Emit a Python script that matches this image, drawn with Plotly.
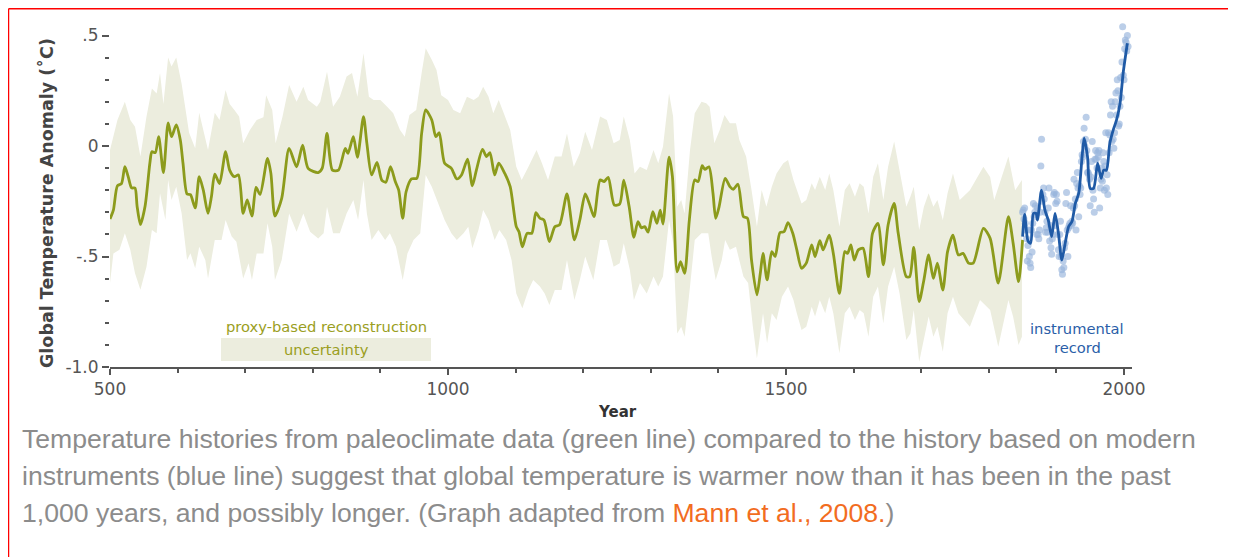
import plotly.graph_objects as go

# ---------------- data ----------------
recon_years = [500,505,511,517,522,527,532,537,540,545,552,559,562,567,572,579,586,591,598,604,608,614,619,626,632,638,645,650,655,662,671,677,684,690,697,703,710,716,722,733,738,744,754,765,776,785,793,808,814,821,829,838,848,852,860,866,875,880,887,895,902,908,915,922,927,933,938,946,954,961,967,976,982,987,995,1005,1013,1020,1029,1036,1042,1051,1057,1062,1069,1075,1084,1092,1101,1105,1110,1117,1124,1130,1136,1142,1150,1158,1165,1176,1187,1195,1203,1209,1216,1225,1231,1237,1246,1254,1260,1268,1275,1281,1286,1291,1296,1303,1309,1314,1318,1327,1332,1339,1344,1350,1357,1365,1370,1376,1380,1386,1392,1396,1401,1410,1417,1422,1429,1437,1443,1449,1457,1462,1466,1472,1479,1484,1491,1497,1503,1510,1516,1523,1530,1538,1543,1550,1555,1564,1570,1579,1587,1591,1596,1601,1607,1614,1622,1628,1636,1644,1651,1660,1666,1678,1683,1689,1697,1704,1711,1718,1724,1732,1739,1747,1755,1762,1770,1777,1792,1802,1814,1829,1836,1844,1850]
recon_vals = [-0.33,-0.29,-0.18,-0.17,-0.094,-0.14,-0.19,-0.19,-0.27,-0.355,-0.27,-0.077,-0.026,-0.03,0.042,-0.12,0.105,0.042,0.095,0.027,-0.078,-0.217,-0.22,-0.28,-0.139,-0.2,-0.305,-0.23,-0.127,-0.17,-0.026,-0.109,-0.139,-0.131,-0.305,-0.244,-0.317,-0.187,-0.219,-0.056,-0.124,-0.317,-0.237,-0.011,-0.094,0.004,-0.101,-0.12,-0.1,0.057,-0.109,-0.109,-0.011,-0.033,0.042,-0.051,0.133,0.012,-0.131,-0.074,-0.154,-0.164,-0.094,-0.161,-0.199,-0.327,-0.207,-0.149,-0.146,0.057,0.163,0.118,0.042,0.06,-0.078,-0.101,-0.149,-0.131,-0.06,-0.18,-0.109,-0.015,-0.048,-0.03,-0.131,-0.078,-0.124,-0.184,-0.365,-0.388,-0.456,-0.395,-0.395,-0.302,-0.327,-0.335,-0.433,-0.365,-0.357,-0.217,-0.425,-0.335,-0.217,-0.26,-0.32,-0.154,-0.161,-0.142,-0.267,-0.262,-0.154,-0.275,-0.413,-0.342,-0.37,-0.365,-0.39,-0.297,-0.35,-0.29,-0.353,-0.051,-0.139,-0.569,-0.523,-0.576,-0.335,-0.154,-0.161,-0.089,-0.106,-0.094,-0.214,-0.327,-0.275,-0.146,-0.184,-0.196,-0.173,-0.32,-0.327,-0.516,-0.674,-0.576,-0.486,-0.606,-0.478,-0.5,-0.392,-0.388,-0.347,-0.395,-0.47,-0.553,-0.53,-0.448,-0.5,-0.428,-0.47,-0.403,-0.486,-0.667,-0.478,-0.486,-0.448,-0.516,-0.47,-0.463,-0.591,-0.395,-0.35,-0.538,-0.357,-0.26,-0.395,-0.591,-0.591,-0.459,-0.704,-0.606,-0.493,-0.599,-0.53,-0.652,-0.478,-0.403,-0.493,-0.486,-0.53,-0.53,-0.373,-0.418,-0.62,-0.32,-0.44,-0.614,-0.425]

upper_years = [500,511,522,530,537,545,554,562,569,574,579,586,591,598,606,612,617,626,632,638,645,655,662,671,677,684,691,697,707,717,727,731,740,745,755,765,776,786,793,806,811,821,830,840,850,858,866,875,883,890,900,910,919,929,936,943,953,961,967,976,983,990,1000,1008,1018,1028,1038,1045,1052,1060,1067,1075,1084,1092,1101,1109,1119,1131,1139,1148,1158,1168,1176,1186,1195,1203,1213,1225,1235,1245,1254,1260,1269,1276,1284,1294,1304,1311,1318,1327,1333,1339,1345,1350,1358,1365,1375,1382,1387,1394,1402,1409,1417,1426,1431,1441,1449,1457,1464,1471,1479,1486,1496,1503,1511,1516,1523,1530,1538,1543,1550,1558,1564,1570,1579,1587,1594,1602,1609,1615,1622,1629,1636,1644,1651,1660,1668,1678,1684,1689,1697,1704,1711,1718,1724,1732,1739,1747,1757,1772,1792,1802,1808,1829,1839,1849]
upper_vals = [-0.018,0.118,0.2,0.118,0.087,-0.048,0.133,0.26,0.238,0.33,0.19,0.40,0.36,0.40,0.28,0.148,0.06,-0.01,0.15,0.072,-0.018,0.15,0.118,0.253,0.19,0.163,0.133,0.013,0.072,0.118,0.13,0.23,0.163,0.013,0.13,0.276,0.2,0.268,0.208,0.178,0.2,0.336,0.178,0.223,0.314,0.33,0.223,0.42,0.223,0.208,0.208,0.178,0.148,0.072,0.042,0.14,0.163,0.33,0.442,0.39,0.344,0.23,0.208,0.163,0.148,0.223,0.208,0.223,0.268,0.223,0.148,0.208,0.133,0.072,-0.094,-0.154,-0.094,-0.018,-0.078,-0.154,-0.048,-0.048,0.057,-0.094,-0.033,0.065,-0.018,0.133,0.118,0.012,0.027,0.133,0.027,-0.124,-0.094,-0.109,-0.018,-0.078,-0.003,0.238,0.133,-0.275,-0.244,-0.305,-0.018,0.148,0.2,0.193,0.178,0.012,0.072,0.14,0.103,0.103,0.027,-0.048,-0.199,-0.365,-0.199,-0.275,-0.184,-0.124,-0.078,-0.063,-0.154,-0.199,-0.26,-0.244,-0.169,-0.199,-0.139,-0.199,-0.124,-0.199,-0.365,-0.199,-0.169,-0.23,-0.169,-0.184,-0.305,-0.139,-0.078,-0.244,-0.094,0.02,-0.109,-0.275,-0.23,-0.184,-0.38,-0.275,-0.214,-0.275,-0.244,-0.335,-0.214,-0.124,-0.244,-0.2,-0.094,-0.14,-0.244,-0.048,-0.2,-0.154]

lower_years = [500,505,514,522,530,537,545,554,562,569,574,582,586,591,598,606,614,619,626,632,641,645,655,665,671,680,687,697,705,710,717,727,733,740,744,754,765,776,786,796,808,816,821,830,840,850,860,867,875,880,887,897,907,914,923,933,940,949,959,967,976,986,995,1005,1013,1023,1030,1036,1045,1052,1060,1069,1076,1086,1094,1101,1110,1119,1126,1136,1143,1150,1158,1168,1176,1187,1195,1203,1215,1225,1235,1245,1254,1260,1269,1275,1284,1294,1304,1311,1318,1327,1333,1339,1345,1350,1358,1365,1375,1385,1390,1396,1405,1410,1417,1426,1437,1444,1451,1457,1462,1466,1472,1479,1486,1494,1503,1511,1516,1523,1530,1538,1543,1550,1558,1564,1570,1579,1587,1594,1602,1609,1615,1622,1629,1636,1644,1651,1660,1668,1678,1684,1689,1697,1704,1711,1718,1724,1732,1739,1747,1755,1772,1787,1802,1814,1829,1836,1844,1849]
lower_vals = [-0.62,-0.486,-0.47,-0.395,-0.47,-0.576,-0.65,-0.546,-0.38,-0.395,-0.214,-0.335,-0.154,-0.244,-0.184,-0.305,-0.516,-0.485,-0.553,-0.456,-0.516,-0.6,-0.425,-0.425,-0.335,-0.41,-0.433,-0.6,-0.53,-0.606,-0.486,-0.486,-0.35,-0.456,-0.606,-0.516,-0.305,-0.388,-0.305,-0.388,-0.418,-0.395,-0.275,-0.395,-0.395,-0.305,-0.244,-0.335,-0.154,-0.305,-0.425,-0.38,-0.425,-0.395,-0.456,-0.606,-0.486,-0.425,-0.395,-0.131,-0.184,-0.26,-0.335,-0.395,-0.425,-0.395,-0.365,-0.463,-0.38,-0.29,-0.335,-0.425,-0.38,-0.425,-0.516,-0.667,-0.734,-0.652,-0.606,-0.636,-0.667,-0.72,-0.652,-0.652,-0.516,-0.697,-0.606,-0.5,-0.606,-0.425,-0.425,-0.546,-0.53,-0.44,-0.56,-0.697,-0.62,-0.667,-0.591,-0.636,-0.591,-0.335,-0.44,-0.848,-0.818,-0.863,-0.636,-0.425,-0.395,-0.395,-0.5,-0.606,-0.516,-0.425,-0.47,-0.456,-0.591,-0.62,-0.818,-0.961,-0.848,-0.757,-0.893,-0.757,-0.787,-0.682,-0.636,-0.697,-0.757,-0.833,-0.818,-0.727,-0.772,-0.697,-0.757,-0.682,-0.757,-0.938,-0.757,-0.727,-0.787,-0.742,-0.757,-0.863,-0.682,-0.636,-0.802,-0.636,-0.546,-0.667,-0.878,-0.848,-0.742,-0.976,-0.878,-0.772,-0.863,-0.818,-0.931,-0.757,-0.682,-0.757,-0.818,-0.697,-0.742,-0.908,-0.697,-0.773,-0.9,-0.863]

inst_line_years = [1850,1853,1858,1862,1866,1870,1872,1878,1883,1888,1893,1898,1903,1908,1913,1918,1923,1928,1933,1938,1941,1946,1950,1955,1961,1966,1970,1974,1979,1984,1989,1994,1999,2005]
inst_line_vals = [-0.41,-0.31,-0.43,-0.44,-0.305,-0.305,-0.335,-0.2,-0.29,-0.335,-0.41,-0.305,-0.395,-0.516,-0.44,-0.365,-0.342,-0.26,-0.214,-0.048,0.035,-0.048,-0.192,-0.192,-0.078,-0.146,-0.109,-0.11,0.012,0.072,0.118,0.19,0.336,0.465]

inst_years = list(range(1850, 2007))
inst_annual = [-0.30,-0.29,-0.33,-0.28,-0.35,-0.38,-0.42,-0.52,-0.45,-0.38,
               -0.50,-0.53,-0.55,-0.38,-0.48,-0.35,-0.26,-0.32,-0.30,-0.27,
               -0.31,-0.40,-0.28,-0.40,-0.42,-0.38,-0.30,-0.09,0.03,-0.25,
               -0.22,-0.19,-0.24,-0.30,-0.39,-0.37,-0.34,-0.39,-0.28,-0.19,
               -0.43,-0.36,-0.46,-0.49,-0.42,-0.40,-0.22,-0.21,-0.36,-0.26,
               -0.22,-0.25,-0.40,-0.47,-0.50,-0.40,-0.34,-0.50,-0.56,-0.58,
               -0.52,-0.55,-0.46,-0.44,-0.26,-0.21,-0.38,-0.50,-0.37,-0.36,
               -0.35,-0.27,-0.36,-0.34,-0.35,-0.28,-0.15,-0.27,-0.24,-0.38,
               -0.17,-0.12,-0.19,-0.32,-0.18,-0.22,-0.19,-0.07,-0.04,-0.05,
               0.02,0.08,0.00,0.03,0.13,-0.02,-0.12,-0.12,-0.13,-0.15,
               -0.27,-0.14,-0.07,0.02,-0.20,-0.24,-0.30,-0.06,-0.02,-0.06,
               -0.10,-0.03,-0.05,-0.02,-0.28,-0.19,-0.15,-0.10,-0.16,-0.03,
               -0.07,-0.20,-0.09,0.06,-0.19,-0.13,-0.22,0.06,-0.03,0.05,
               0.14,0.20,0.02,0.18,0.03,-0.01,0.06,0.20,0.24,0.14,
               0.30,0.25,0.09,0.10,0.18,0.31,0.22,0.38,0.54,0.32,
               0.30,0.44,0.48,0.47,0.43,0.50,0.45]

y_tickvals = [-1.0, -0.5, 0.0, 0.5]
y_ticktext = ["-1.0", "-.5", "0", ".5"]
x_tickvals = [500, 1000, 1500, 2000]
x_ticktext = ["500", "1000", "1500", "2000"]

caption_lines = [
    "Temperature histories from paleoclimate data (green line) compared to the history based on modern",
    "instruments (blue line) suggest that global temperature is warmer now than it has been in the past",
    "1,000 years, and possibly longer. (Graph adapted from <span style='color:#f26d1f'>Mann et al., 2008.</span>)",
]

# ---------------- layout constants (page pixels; the page body has an 8px margin) ----------------
FIG_W, FIG_H = 1236, 557
OFF = 8
PLOT_LEFT, PLOT_RIGHT, PLOT_TOP, PLOT_BOTTOM = 110, 1132, 20, 367   # page pixels
L = PLOT_LEFT - OFF
R = FIG_W - (PLOT_RIGHT - OFF)
T = PLOT_TOP - OFF
B = FIG_H - (PLOT_BOTTOM - OFF)
PW = PLOT_RIGHT - PLOT_LEFT
PH = PLOT_BOTTOM - PLOT_TOP
ZERO_PX, PX_PER_UNIT = 146, 221.0
YEAR0_PX, PX_PER_YEAR = 110, 0.676

def px_x(px):
    return (px - PLOT_LEFT) / PW

def px_y(py):
    return (PLOT_BOTTOM - py) / PH

GREEN = "#8c9b1c"
BAND = "#ecedde"
BLUE = "#1f5aa6"
DOT = "rgba(150,180,220,0.65)"
AXIS = "#555555"

fig = go.Figure()

band_x = upper_years + lower_years[::-1]
band_y = upper_vals + lower_vals[::-1]
fig.add_trace(go.Scatter(x=band_x, y=band_y, fill="toself", fillcolor=BAND,
                         line=dict(width=0), mode="lines", hoverinfo="skip",
                         showlegend=False))
fig.add_trace(go.Scatter(x=recon_years, y=recon_vals, mode="lines",
                         line=dict(color=GREEN, width=2.8, shape="spline", smoothing=0.7),
                         showlegend=False))
fig.add_trace(go.Scatter(x=inst_years, y=inst_annual, mode="markers",
                         marker=dict(color=DOT, size=7, line=dict(width=0)),
                         showlegend=False))
fig.add_trace(go.Scatter(x=inst_line_years, y=inst_line_vals, mode="lines",
                         line=dict(color=BLUE, width=2.8, shape="spline", smoothing=0.7),
                         showlegend=False))

x_lo = 500 + (PLOT_LEFT - YEAR0_PX) / PX_PER_YEAR
x_hi = 500 + (PLOT_RIGHT - YEAR0_PX) / PX_PER_YEAR
y_lo = (ZERO_PX - PLOT_BOTTOM) / PX_PER_UNIT
y_hi = (ZERO_PX - PLOT_TOP) / PX_PER_UNIT

fig.update_xaxes(range=[x_lo, x_hi], showgrid=False, zeroline=False,
                 showline=True, linecolor=AXIS, linewidth=1.5,
                 ticks="outside", ticklen=6, tickwidth=1.5, tickcolor=AXIS,
                 tickvals=x_tickvals, ticktext=x_ticktext,
                 tickfont=dict(family="DejaVu Sans", size=17, color=AXIS),
                 minor=dict(dtick=100, tick0=0, ticks="outside", ticklen=4,
                            tickwidth=1.5, tickcolor=AXIS))
fig.update_yaxes(range=[y_lo, y_hi], showgrid=False, zeroline=False,
                 showline=False,
                 ticks="outside", ticklen=7, tickwidth=2, tickcolor=AXIS,
                 tickvals=y_tickvals, ticktext=y_ticktext,
                 tickfont=dict(family="DejaVu Sans", size=17, color=AXIS),
                 minor=dict(dtick=0.1, tick0=0, ticks="outside", ticklen=4,
                            tickwidth=2, tickcolor=AXIS))

annotations = [
    dict(text="<b>Global Temperature Anomaly (˚C)</b>", textangle=-90,
         x=px_x(47), y=px_y(203), font=dict(family="DejaVu Sans", size=17.5, color="#444444")),
    dict(text="<b>Year</b>", x=px_x(617), y=px_y(412),
         font=dict(family="DejaVu Sans", size=15, color="#333333")),
    dict(text="proxy-based reconstruction", x=px_x(326), y=px_y(326),
         font=dict(family="DejaVu Sans", size=14.7, color="#9a9e22")),
    dict(text="uncertainty", x=px_x(326), y=px_y(349.5),
         font=dict(family="DejaVu Sans", size=14.7, color="#9a9e22")),
    dict(text="instrumental", x=px_x(1077), y=px_y(328),
         font=dict(family="DejaVu Sans", size=14.7, color="#2a5ea8")),
    dict(text="record", x=px_x(1077), y=px_y(347),
         font=dict(family="DejaVu Sans", size=14.7, color="#2a5ea8")),
]
for line, cy in zip(caption_lines, [439, 476, 513]):
    annotations.append(dict(text=line, x=px_x(20), y=px_y(cy), xanchor="left",
                            font=dict(family="Liberation Sans, Arial", size=26.6, color="#8c8c8c")))
for a in annotations:
    a.setdefault("xanchor", "center")
    a.update(xref="paper", yref="paper", showarrow=False, yanchor="middle")

shapes = [
    dict(type="rect", xref="paper", yref="paper", x0=px_x(221), x1=px_x(431),
         y0=px_y(361), y1=px_y(338), fillcolor=BAND, line=dict(width=0), layer="below"),
    dict(type="line", xref="paper", yref="paper", x0=px_x(8.5), x1=px_x(8.5),
         y0=px_y(8.75), y1=px_y(570), line=dict(color="#ff0000", width=1.5)),
    dict(type="line", xref="paper", yref="paper", x0=px_x(8.5), x1=px_x(1250),
         y0=px_y(8.75), y1=px_y(8.75), line=dict(color="#ff0000", width=1.5)),
]

fig.update_layout(width=FIG_W, height=FIG_H,
                  margin=dict(l=L, r=R, t=T, b=B, pad=0),
                  paper_bgcolor="white", plot_bgcolor="white",
                  annotations=annotations, shapes=shapes, showlegend=False)

fig.write_html("out.html")
